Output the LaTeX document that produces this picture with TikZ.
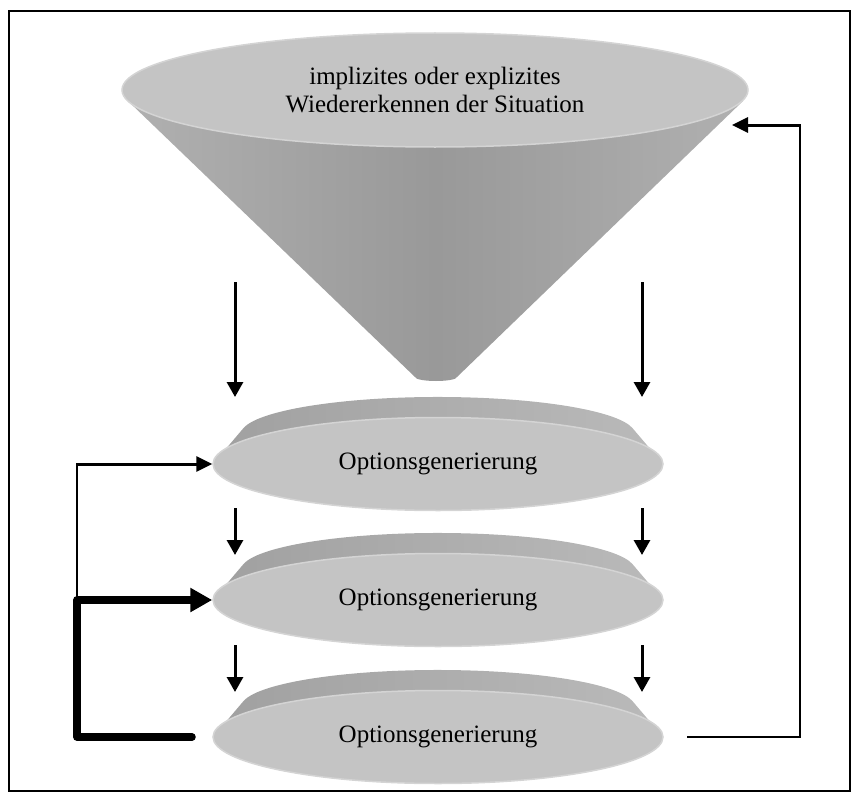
\documentclass[tikz,border=0pt]{standalone}
\usepackage{fontspec}
\setmainfont{Liberation Serif}
\usetikzlibrary{arrows.meta,shapes.geometric}
\definecolor{facegray}{HTML}{C4C4C4}
\definecolor{faceedge}{HTML}{D4D4D4}
\definecolor{rimdark}{HTML}{A0A0A0}
\definecolor{rimlight}{HTML}{BABABA}
\definecolor{conemid}{HTML}{999999}
\definecolor{coneedge}{HTML}{B0B0B0}
\begin{document}
\begin{tikzpicture}[x=1pt,y=-1pt,
  face/.style={ellipse, fill=facegray, draw=faceedge, line width=1.5pt, inner sep=0pt,
    font=\fontsize{25}{28}\selectfont, align=center},
  disc/.style={face, minimum width=450pt, minimum height=93pt},
  downarrow/.style={line width=3pt, -{Triangle[length=15pt,width=16pt]}},
  thinline/.style={line width=2pt},
  thinarrow/.style={line width=3pt, -{Triangle[length=16pt,width=15pt]}},
  thickarrow/.style={line width=7.5pt, line join=round, line cap=round, -{Triangle[length=22pt,width=23pt]}},
]
\useasboundingbox (0,0) rectangle (851,792);
\draw[line width=1.5pt] (9,11) rectangle (850,791);

% cone
\shade[left color=coneedge, right color=coneedge, middle color=conemid]
  (128,101) -- (415,377) arc[start angle=180,end angle=360,x radius=21pt,y radius=4pt]
  -- (743,101) -- cycle;
\node[face, minimum width=626pt, minimum height=114pt] (top) at (435,90)
  {implizites oder explizites\\Wiedererkennen der Situation};

% discs
\foreach \c/\n in {464/d1,600/d2,737/d3}{
  \shade[left color=rimdark, right color=rimlight]
    (213,\c) -- (243.4,\c-35.8) arc[start angle=171,end angle=9,x radius=197pt,y radius=37pt]
    -- (663,\c) arc[start angle=0,end angle=-180,x radius=225pt,y radius=46.5pt] -- cycle;
  \node[disc] (\n) at (438,\c) {Optionsgenerierung};
}

% down arrows
\coordinate (a1s) at (235,282); \coordinate (a1e) at (235,397);
\coordinate (b1s) at (642,282); \coordinate (b1e) at (642,397);
\coordinate (a2s) at (235,508); \coordinate (a2e) at (235,555);
\coordinate (b2s) at (642,508); \coordinate (b2e) at (642,555);
\coordinate (a3s) at (235,645); \coordinate (a3e) at (235,692);
\coordinate (b3s) at (642,645); \coordinate (b3e) at (642,692);
\draw[downarrow] (a1s) -- (a1e);
\draw[downarrow] (b1s) -- (b1e);
\draw[downarrow] (a2s) -- (a2e);
\draw[downarrow] (b2s) -- (b2e);
\draw[downarrow] (a3s) -- (a3e);
\draw[downarrow] (b3s) -- (b3e);

% left feedback loops
\coordinate (lc) at (77,600);
\coordinate (lt) at (77,464);
\coordinate (tb) at (192,737);
\coordinate (tl) at (77,737);
\draw[thinline] (lc) -- (lt);
\draw[thinarrow] ([xshift=-1pt]lt) -- (d1.west);
\draw[thickarrow] (tb) -- (tl) -- (lc) -- (d2.west);

% right feedback loop
\coordinate (rb) at (687,737);
\coordinate (rbc) at (800,737);
\coordinate (rtc) at (800,125);
\coordinate (rt) at (732,125);
\draw[thinline] (rb) -- (rbc) -- (rtc);
\draw[thinarrow] ([xshift=1pt]rtc) -- (rt);
\end{tikzpicture}
\end{document}
